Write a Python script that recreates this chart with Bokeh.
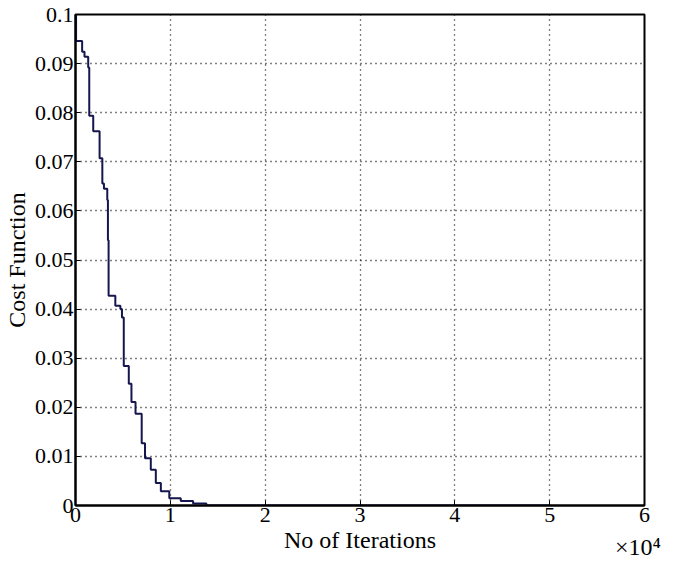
from bokeh.plotting import figure
from bokeh.models import FixedTicker, Range1d, LinearAxis
from bokeh.embed import file_html
from bokeh.resources import INLINE

# data (x in iterations, cost value held from x onward)
iterations = [0, 60, 700, 950, 1340, 1450, 1870, 2540, 2830, 3000, 3350, 3420,
              3490, 4200, 4730, 4900, 5090, 5620, 5900, 6330, 6980, 7330, 7940,
              8470, 9000, 9890, 11100, 12400, 13800, 50000]
cost = [0.1, 0.0946, 0.0924, 0.0914, 0.0892, 0.0794, 0.0762, 0.0707, 0.0656,
        0.0645, 0.0622, 0.0540, 0.0427, 0.0407, 0.0400, 0.0383, 0.0284, 0.0248,
        0.0211, 0.0187, 0.0127, 0.0096, 0.0073, 0.0046, 0.0029, 0.0015, 0.0009,
        0.0004, 0.0, 0.0]
x_ticks = [0, 1, 2, 3, 4, 5, 6]
y_ticks = [0, 0.01, 0.02, 0.03, 0.04, 0.05, 0.06, 0.07, 0.08, 0.09, 0.1]
y_tick_labels = ["0", "0.01", "0.02", "0.03", "0.04", "0.05", "0.06", "0.07",
                 "0.08", "0.09", "0.1"]
exponent_text = "×10⁴"
exponent_pos = 5.93

xs = [v / 1e4 for v in iterations]

FONT = "Liberation Serif"

p = figure(width=663, height=562, output_backend="svg", toolbar_location=None,
           x_range=Range1d(0, 6), y_range=Range1d(0, 0.1),
           min_border_left=68, min_border_right=19, min_border_top=14,
           min_border_bottom=54)

p.step(xs, cost, mode="after", line_color="#16164e", line_width=2)

p.outline_line_color = "black"
p.outline_line_width = 2
p.outline_line_alpha = 1

for ax in (p.xaxis[0], p.yaxis[0]):
    ax.major_label_text_font = FONT
    ax.major_label_text_font_size = "22px"
    ax.major_label_text_color = "black"
    ax.axis_label_text_font = FONT
    ax.axis_label_text_font_size = "24px"
    ax.axis_label_text_font_style = "normal"
    ax.axis_label_text_color = "black"
    ax.axis_line_color = "black"
    ax.axis_line_width = 2
    ax.major_tick_in = 5
    ax.major_tick_out = 0
    ax.minor_tick_line_color = None
    ax.major_tick_line_color = "black"
    ax.major_label_standoff = 2

p.xaxis[0].ticker = FixedTicker(ticks=x_ticks)
p.yaxis[0].ticker = FixedTicker(ticks=y_ticks)
p.yaxis[0].major_label_overrides = {t: l for t, l in zip(y_ticks, y_tick_labels)}
p.xaxis[0].major_label_overrides = {t: str(t) for t in x_ticks}
p.xaxis[0].axis_label = "No of Iterations"
p.yaxis[0].axis_label = "Cost Function"
p.xaxis[0].axis_label_standoff = 2
p.yaxis[0].axis_label_standoff = 2

for g in (p.xgrid[0], p.ygrid[0]):
    g.grid_line_color = "black"
    g.grid_line_dash = "1 4"
    g.grid_line_width = 1.3
    g.grid_line_alpha = 1
p.xgrid[0].ticker = FixedTicker(ticks=x_ticks)
p.ygrid[0].ticker = FixedTicker(ticks=y_ticks)

# the "×10⁴" multiplier, drawn as the only label of a bare extra axis
exp_axis = LinearAxis(ticker=FixedTicker(ticks=[exponent_pos]),
                      major_label_overrides={exponent_pos: exponent_text},
                      axis_line_color=None, major_tick_line_color=None,
                      minor_tick_line_color=None, major_tick_in=0,
                      major_tick_out=0, major_label_standoff=-22,
                      major_label_text_font=FONT,
                      major_label_text_font_size="24px",
                      major_label_text_color="black")
p.add_layout(exp_axis, "below")

open("out.html", "w").write(file_html(p, INLINE))
